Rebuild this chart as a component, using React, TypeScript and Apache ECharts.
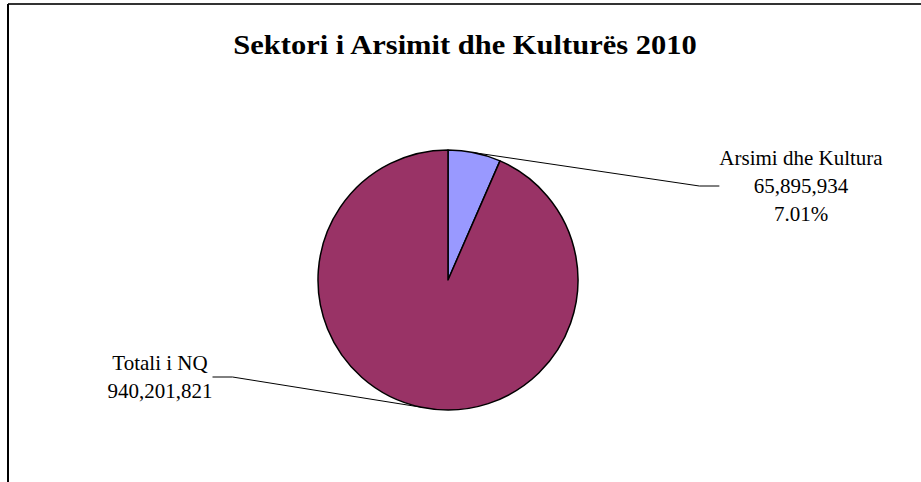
import React, { useEffect, useRef } from "react";
import * as echarts from "echarts";

const titleText = "Sektori i Arsimit dhe Kulturës 2010";
const categories = ["Arsimi dhe Kultura", "Totali i NQ"];
const values = [65895934, 940201821];
const percentLabels = ["7.01%", ""];
const colors = ["#9999FF", "#993366"];

const fmt = (v: number) => v.toLocaleString("en-US");

export default function App() {
  const ref = useRef<HTMLDivElement>(null);
  useEffect(() => {
    if (!ref.current) return;
    const chart = echarts.init(ref.current, null, { renderer: "svg" });
    const font = "'Liberation Serif', 'Times New Roman', serif";
    chart.setOption({
      animation: false,
      backgroundColor: "#ffffff",
      graphic: [
        { type: "line", shape: { x1: 8, y1: 4, x2: 921, y2: 4 }, style: { stroke: "#333", lineWidth: 2 } },
        { type: "line", shape: { x1: 8, y1: 4, x2: 8, y2: 482 }, style: { stroke: "#000", lineWidth: 2 } },
        {
          type: "text",
          x: 465,
          y: 45,
          scaleX: 1.13,
          style: {
            text: titleText,
            textAlign: "center",
            textVerticalAlign: "middle",
            font: "bold 27px 'Liberation Serif', 'Times New Roman', serif",
            fill: "#000",
          },
        },
      ],
      series: [
        {
          type: "pie",
          center: [448, 280],
          radius: [0, 130],
          startAngle: 90,
          clockwise: true,
          data: categories.map((c, i) => ({
            name: c,
            value: values[i],
            itemStyle: { color: colors[i], borderColor: "#000", borderWidth: 1.5 },
          })),
          label: {
            show: true,
            fontFamily: font,
            fontSize: 21,
            lineHeight: 28,
            color: "#000",
            align: "center",
            formatter: (p: any) => {
              const pct = percentLabels[p.dataIndex];
              return p.name + "\n" + fmt(p.value) + (pct ? "\n" + pct : "");
            },
          },
          labelLine: { show: true, length: 20, length2: 20, lineStyle: { color: "#000", width: 1 } },
          labelLayout: (params: any) => {
            if (params.dataIndex === 0) {
              return { x: 801, y: 186, align: "center", verticalAlign: "middle" };
            }
            return { x: 160, y: 377, align: "center", verticalAlign: "middle" };
          },
        },
      ],
    });
    return () => chart.dispose();
  }, []);
  return (
    <div
      ref={ref}
      style={{ position: "fixed", left: 0, top: 0, width: 921, height: 482 }}
    />
  );
}
